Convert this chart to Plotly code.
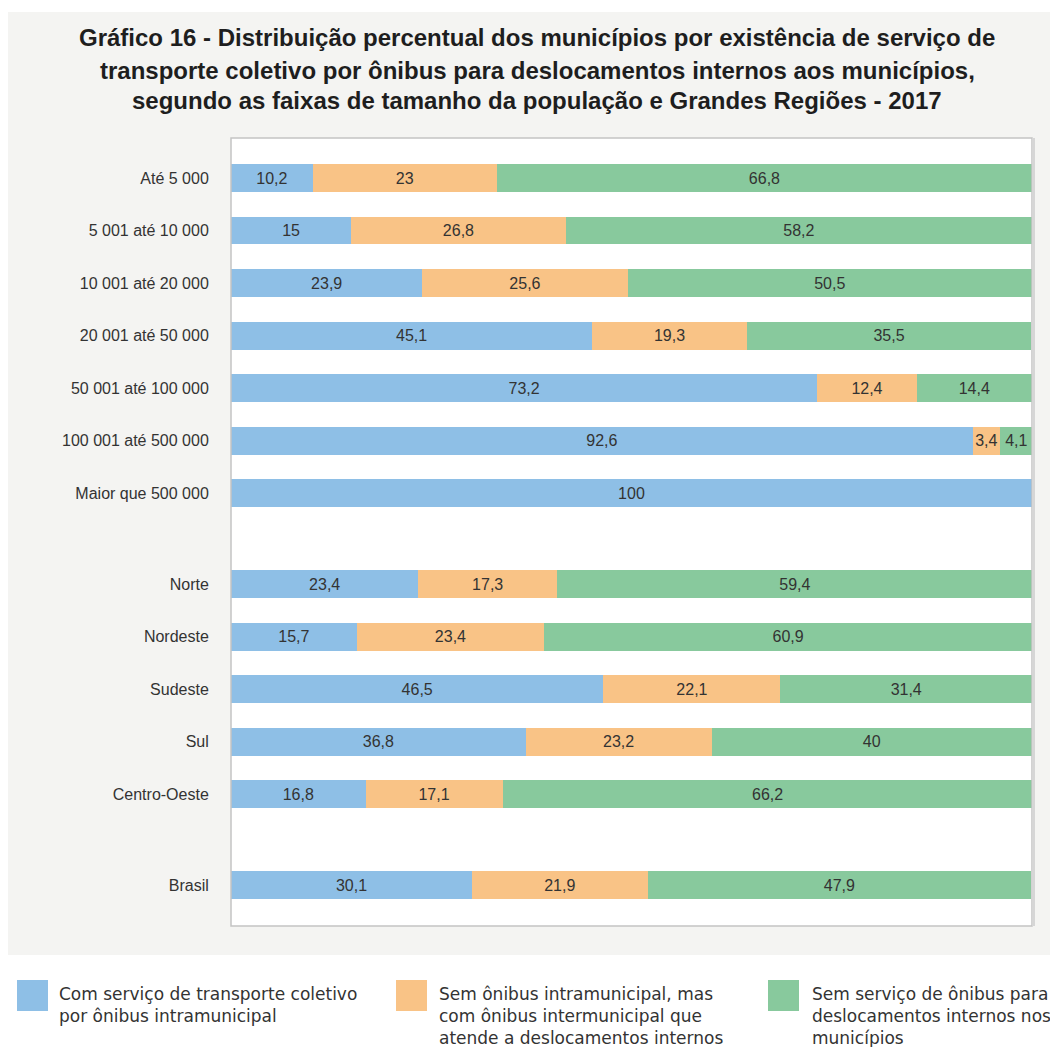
import plotly.graph_objects as go

# ---- data ----
categories = [
    "Até 5 000", "5 001 até 10 000", "10 001 até 20 000", "20 001 até 50 000",
    "50 001 até 100 000", "100 001 até 500 000", "Maior que 500 000",
    "Norte", "Nordeste", "Sudeste", "Sul", "Centro-Oeste",
    "Brasil",
]
group_sizes = [7, 5, 1]

com_servico = [10.2, 15, 23.9, 45.1, 73.2, 92.6, 100, 23.4, 15.7, 46.5, 36.8, 16.8, 30.1]
sem_intra_com_inter = [23, 26.8, 25.6, 19.3, 12.4, 3.4, None, 17.3, 23.4, 22.1, 23.2, 17.1, 21.9]
sem_servico = [66.8, 58.2, 50.5, 35.5, 14.4, 4.1, None, 59.4, 60.9, 31.4, 40, 66.2, 47.9]

series_names = [
    "Com serviço de transporte coletivo<br>por ônibus intramunicipal",
    "Sem ônibus intramunicipal, mas<br>com ônibus intermunicipal que<br>atende a deslocamentos internos",
    "Sem serviço de ônibus para<br>deslocamentos internos nos<br>municípios",
]
colors = ["#8EBFE6", "#F9C386", "#88C99D"]

title_lines = [
    "Gráfico 16 - Distribuição percentual dos municípios por existência de serviço de",
    "transporte coletivo por ônibus para deslocamentos internos aos municípios,",
    "segundo as faixas de tamanho da população e Grandes Regiões - 2017",
]

# ---- layout helpers ----
GAP = 0.73
ypos = []
pos = 0.0
for gi, n in enumerate(group_sizes):
    if gi > 0:
        pos += 1 + GAP
    for k in range(n):
        if k > 0:
            pos += 1
        ypos.append(pos)


def fmt(v):
    if v is None:
        return ""
    return ("%g" % v).replace(".", ",")


# page has an 8px body margin; figure sized so it fits the 1058x1047 window
W, H = 1050, 1039
ML, MT, PW, PH = 223, 130, 801, 788
MR, MB = W - ML - PW, H - MT - PH
PLOT_L, PLOT_B = 231, 926  # page coordinates of plot area left / bottom


def px(x):
    return (x - PLOT_L) / PW


def py(y):
    return (PLOT_B - y) / PH


fig = go.Figure()
for name, vals, col in zip(series_names, [com_servico, sem_intra_com_inter, sem_servico], colors):
    fig.add_trace(go.Bar(
        y=ypos, x=vals, orientation="h", name=name,
        marker=dict(color=col, line=dict(width=0)),
        width=0.53,
        text=[fmt(v) for v in vals], textposition="inside", insidetextanchor="middle",
        textangle=0,
        textfont=dict(family="Liberation Sans, Arial, sans-serif", size=16, color="#333333"),
        hoverinfo="x+y", showlegend=False,
    ))

shapes = [
    # gray background panel
    dict(type="rect", xref="paper", yref="paper", x0=px(8), x1=px(1070), y0=py(955), y1=py(12),
         fillcolor="#F4F4F2", line=dict(width=0), layer="below"),
    # white plot area
    dict(type="rect", xref="paper", yref="paper", x0=0, x1=1, y0=0, y1=1,
         fillcolor="white", line=dict(width=0), layer="below"),
    # border
    dict(type="rect", xref="paper", yref="paper", x0=0, x1=1, y0=0, y1=1,
         fillcolor="rgba(0,0,0,0)", line=dict(width=1.5, color="#C4C4C4"), layer="above"),
    dict(type="line", xref="paper", yref="paper", x0=px(1033.5), x1=px(1033.5), y0=0, y1=1,
         line=dict(width=3, color="#D6D6D6"), layer="above"),
]

annotations = []
for i, line in enumerate(title_lines):
    annotations.append(dict(
        text="<b>%s</b>" % line, xref="paper", yref="paper", x=px(537), y=py([38, 70, 101][i]),
        xanchor="center", yanchor="middle", showarrow=False,
        font=dict(family="Liberation Sans, Arial, sans-serif", size=24, color="#1E1E1E"),
    ))

# legend (drawn as swatches + text below the panel)
legend_sq_left = [17, 396, 768]
legend_txt_left = [57, 437, 810]
for name, col, sx, tx in zip(series_names, colors, legend_sq_left, legend_txt_left):
    shapes.append(dict(type="rect", xref="paper", yref="paper",
                       x0=px(sx), x1=px(sx + 31), y0=py(1011), y1=py(980),
                       fillcolor=col, line=dict(width=0), layer="above"))
    annotations.append(dict(
        text=name, xref="paper", yref="paper", x=px(tx), y=py(982),
        xanchor="left", yanchor="top", align="left", showarrow=False,
        font=dict(family="DejaVu Sans, Verdana, sans-serif", size=17, color="#333333"),
    ))

fig.update_layout(
    width=W, height=H,
    margin=dict(l=ML, r=MR, t=MT, b=MB, autoexpand=False),
    paper_bgcolor="white", plot_bgcolor="white",
    barmode="stack",
    uniformtext=dict(minsize=16, mode="show"),
    shapes=shapes, annotations=annotations,
    showlegend=False,
    xaxis=dict(range=[0, 100], showgrid=False, zeroline=False, showticklabels=False,
               showline=False, fixedrange=True),
    yaxis=dict(range=[ypos[-1] + 0.78, -0.762], tickvals=ypos, ticktext=categories,
               showgrid=False, zeroline=False, showline=False,
               ticks="outside", ticklen=18, tickcolor="rgba(0,0,0,0)",
               tickfont=dict(family="Liberation Sans, Arial, sans-serif", size=16, color="#333333")),
    font=dict(family="Liberation Sans, Arial, sans-serif"),
)

fig.write_html("out.html")
